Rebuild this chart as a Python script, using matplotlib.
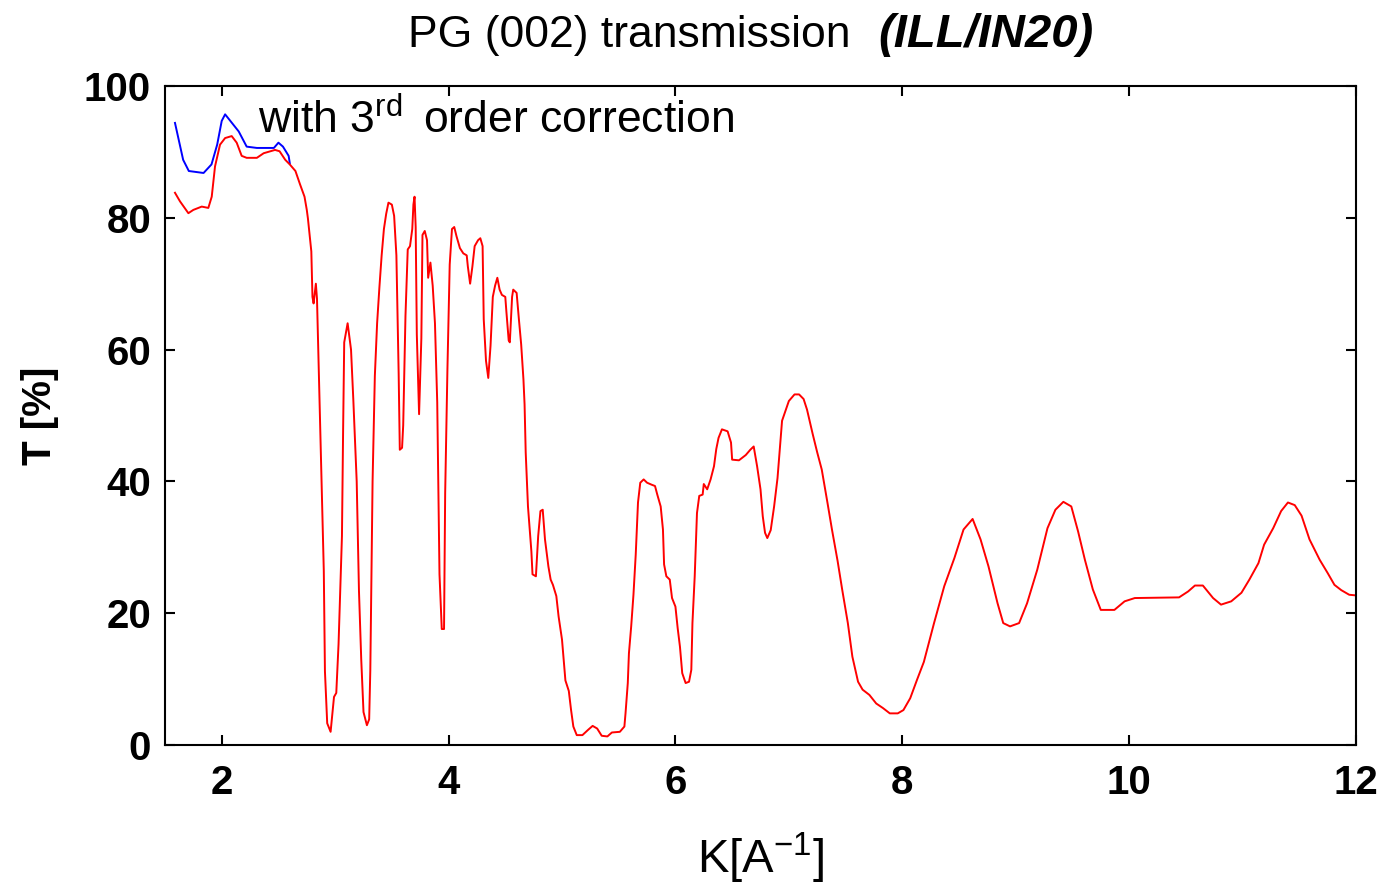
import matplotlib
matplotlib.use("Agg")
import matplotlib.pyplot as plt

# transmission without correction (red) and with 3rd order correction (blue)
k_red = [1.588, 1.632, 1.706, 1.75, 1.824, 1.882, 1.912, 1.941, 1.985, 2.03,
         2.088, 2.132, 2.176, 2.22, 2.31, 2.37, 2.47, 2.51, 2.56, 2.60,
         2.65, 2.69, 2.73, 2.75, 2.76, 2.79, 2.80, 2.81, 2.83, 2.84,
         2.87, 2.90, 2.91, 2.93, 2.96, 2.99, 3.01, 3.03, 3.06, 3.07,
         3.08, 3.11, 3.14, 3.16, 3.19, 3.21, 3.23, 3.25, 3.28, 3.30,
         3.31, 3.33, 3.35, 3.37, 3.39, 3.41, 3.43, 3.45, 3.47, 3.50,
         3.52, 3.54, 3.56, 3.57, 3.59, 3.60, 3.62, 3.64, 3.66, 3.68,
         3.69, 3.70, 3.71, 3.72, 3.74, 3.76, 3.77, 3.79, 3.81, 3.82,
         3.84, 3.86, 3.88, 3.90, 3.92, 3.94, 3.96, 3.97, 3.99, 4.01,
         4.03, 4.05, 4.07, 4.10, 4.13, 4.16, 4.17, 4.19, 4.21, 4.23,
         4.26, 4.28, 4.30, 4.31, 4.33, 4.35, 4.37, 4.39, 4.41, 4.43,
         4.45, 4.47, 4.50, 4.51, 4.53, 4.54, 4.56, 4.57, 4.60, 4.62,
         4.64, 4.66, 4.67, 4.68, 4.70, 4.73, 4.74, 4.77, 4.79, 4.81,
         4.83, 4.85, 4.88, 4.90, 4.92, 4.95, 4.97, 5.00, 5.03, 5.06,
         5.08, 5.10, 5.13, 5.18, 5.23, 5.27, 5.31, 5.35, 5.40, 5.44,
         5.51, 5.55, 5.56, 5.58, 5.59, 5.61, 5.63, 5.65, 5.67, 5.69,
         5.72, 5.75, 5.79, 5.82, 5.84, 5.87, 5.89, 5.90, 5.92, 5.95,
         5.97, 6.00, 6.02, 6.04, 6.06, 6.09, 6.12, 6.14, 6.15, 6.17,
         6.19, 6.21, 6.24, 6.25, 6.28, 6.31, 6.34, 6.36, 6.38, 6.41,
         6.46, 6.49, 6.50, 6.56, 6.62, 6.66, 6.69, 6.72, 6.75, 6.77,
         6.79, 6.81, 6.84, 6.87, 6.90, 6.92, 6.94, 6.97, 7.00, 7.05,
         7.09, 7.13, 7.16, 7.21, 7.25, 7.29, 7.34, 7.38, 7.43, 7.47,
         7.52, 7.56, 7.61, 7.65, 7.71, 7.77, 7.83, 7.89, 7.96, 8.01,
         8.07, 8.13, 8.19, 8.28, 8.37, 8.46, 8.54, 8.62, 8.69, 8.76,
         8.84, 8.89, 8.95, 9.03, 9.10, 9.19, 9.28, 9.35, 9.42, 9.49,
         9.55, 9.61, 9.68, 9.75, 9.87, 9.96, 10.05, 10.44, 10.52, 10.58,
         10.65, 10.74, 10.81, 10.90, 10.99, 11.06, 11.14, 11.19, 11.27, 11.34,
         11.40, 11.46, 11.52, 11.59, 11.68, 11.75, 11.81, 11.87, 11.94, 12.00]
t_red = [83.8, 82.5, 80.7, 81.2, 81.7, 81.5, 83.2, 87.8, 91.1, 92.1,
         92.4, 91.4, 89.4, 89.1, 89.1, 89.8, 90.3, 90.1, 88.8, 88.1,
         87.1, 85.1, 83.2, 81.2, 79.9, 74.9, 68.0, 67.0, 70.0, 67.7,
         46.9, 26.4, 11.2, 3.3, 2.0, 7.3, 7.9, 15.3, 31.7, 47.4,
         61.1, 64.0, 60.0, 52.5, 40.0, 23.4, 13.0, 5.0, 3.0, 3.9,
         11.3, 40.0, 56.0, 64.0, 69.4, 74.3, 78.3, 80.6, 82.3, 82.0,
         80.3, 74.3, 56.3, 44.8, 45.1, 48.5, 65.1, 75.2, 75.7, 78.3,
         82.0, 83.2, 78.6, 62.3, 50.2, 61.7, 77.4, 78.0, 76.6, 70.9,
         73.2, 69.7, 64.0, 52.0, 25.9, 17.6, 17.6, 38.2, 57.1, 72.9,
         78.3, 78.6, 77.2, 75.4, 74.6, 74.3, 72.6, 70.0, 72.6, 75.7,
         76.6, 76.9, 75.7, 64.6, 58.3, 55.7, 60.6, 68.0, 69.7, 70.9,
         69.1, 68.3, 68.0, 65.7, 61.4, 61.1, 68.0, 69.1, 68.6, 64.6,
         60.8, 55.5, 51.7, 44.4, 36.2, 29.4, 25.9, 25.6, 31.7, 35.5,
         35.7, 31.2, 27.1, 25.1, 24.3, 22.6, 19.5, 16.0, 9.8, 8.2,
         5.3, 2.8, 1.5, 1.5, 2.3, 2.9, 2.5, 1.4, 1.3, 1.9,
         2.0, 2.8, 4.8, 9.4, 13.9, 18.0, 22.8, 28.9, 36.8, 39.8,
         40.3, 39.8, 39.5, 39.3, 38.0, 36.2, 32.7, 27.4, 25.6, 25.1,
         22.3, 21.0, 17.7, 14.9, 10.9, 9.4, 9.6, 11.4, 18.5, 25.6,
         35.2, 37.8, 38.0, 39.6, 38.8, 40.3, 42.3, 44.9, 46.6, 47.9,
         47.6, 45.9, 43.3, 43.2, 44.0, 44.8, 45.3, 42.3, 38.8, 34.7,
         32.2, 31.4, 32.6, 36.2, 40.5, 44.9, 49.2, 50.7, 52.2, 53.2,
         53.2, 52.5, 50.9, 47.2, 44.4, 41.8, 36.8, 32.7, 27.9, 23.6,
         18.5, 13.4, 9.6, 8.4, 7.6, 6.3, 5.6, 4.8, 4.8, 5.3,
         7.1, 9.9, 12.6, 18.5, 24.1, 28.4, 32.7, 34.3, 31.2, 27.1,
         21.5, 18.5, 18.0, 18.5, 21.5, 26.6, 32.9, 35.7, 36.9, 36.2,
         32.4, 28.1, 23.6, 20.5, 20.5, 21.8, 22.3, 22.4, 23.3, 24.2,
         24.2, 22.3, 21.3, 21.8, 23.1, 25.1, 27.6, 30.4, 32.9, 35.5,
         36.8, 36.4, 34.8, 31.2, 28.1, 26.1, 24.3, 23.5, 22.8, 22.7]

k_blue = [1.588, 1.66, 1.71, 1.84, 1.91, 1.96, 2.0, 2.03, 2.09, 2.15,
          2.22, 2.31, 2.46, 2.5, 2.54, 2.59, 2.60]
t_blue = [94.4, 88.8, 87.1, 86.8, 88.1, 91.1, 94.7, 95.7, 94.4, 93.1,
          90.8, 90.6, 90.6, 91.4, 90.8, 89.4, 88.3]

x_ticks = [2, 4, 6, 8, 10, 12]
y_ticks = [0, 20, 40, 60, 80, 100]

plt.rcParams["font.family"] = ["Liberation Sans", "DejaVu Sans"]
plt.rcParams["mathtext.fontset"] = "custom"
plt.rcParams["mathtext.rm"] = "Liberation Sans"
plt.rcParams["mathtext.default"] = "rm"

fig = plt.figure(figsize=(13.84, 8.90), dpi=100)
ax = fig.add_axes([165 / 1384, 145 / 890, 1191 / 1384, 659 / 890])

ax.plot(k_blue, t_blue, color="#0000ff", lw=1.4)
ax.plot(k_red, t_red, color="#ff0000", lw=1.4)

ax.set_xlim(1.5, 12)
ax.set_ylim(0, 100)
ax.set_xticks(x_ticks)
ax.set_yticks(y_ticks)
ax.tick_params(direction="in", top=True, right=True, length=7, width=1.5,
               labelsize=29)
ax.tick_params(axis="x", pad=14)
ax.tick_params(axis="y", pad=10)
for lab in ax.get_xticklabels() + ax.get_yticklabels():
    lab.set_fontweight("bold")
for sp in ax.spines.values():
    sp.set_linewidth(1.5)

ax.text(0.078, 0.948, r"with 3$^{rd}\,$ order correction", transform=ax.transAxes,
        fontsize=32, va="center", ha="left")

ax.set_xlabel("K[A$^{-1}$]", fontsize=34)
ax.xaxis.set_label_coords(0.5, -0.172)
ax.xaxis.label.set_va("center")
ax.set_ylabel("T [%]", fontsize=29, fontweight="bold")
ax.yaxis.set_label_coords(-0.105, 0.5)
ax.yaxis.label.set_va("center")

fig.text(850 / 1384, 1 - 35 / 890, "PG (002) transmission", fontsize=32,
         ha="right", va="center")
fig.text(878 / 1384, 1 - 35 / 890, "(ILL/IN20)", fontsize=34,
         ha="left", va="center", style="italic", fontweight="bold")

plt.savefig("out.png", dpi=100)
plt.close()
